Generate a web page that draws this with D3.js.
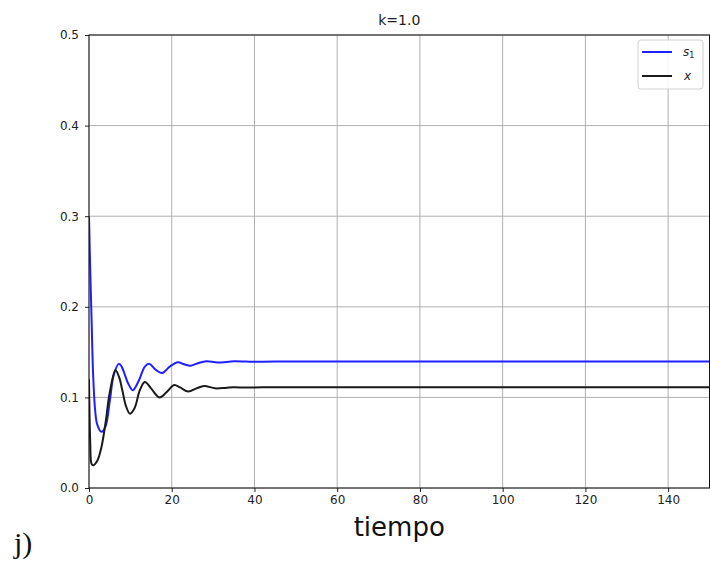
<!DOCTYPE html>
<html>
<head>
<meta charset="utf-8">
<script src="https://cdn.jsdelivr.net/npm/d3@7"></script>
<style>
  html, body { margin: 0; padding: 0; background: #fff; }
  svg { display: block; }
</style>
</head>
<body>
<svg id="chart" width="710" height="564"></svg>
<script>
// ---- data ----
const title = "k=1.0";
const xLabel = "tiempo";
const panelLabel = "j)";
const xTicks = [0, 20, 40, 60, 80, 100, 120, 140];
const yTicks = [0.0, 0.1, 0.2, 0.3, 0.4, 0.5];
const seriesNames = ["s1", "x"];

const s1Time = [0, 0.3, 0.6, 1.0, 1.5, 2.0, 3.0, 4.0, 5.0, 6.0, 7.2, 7.9, 8.6, 9.5, 10.6, 12.0, 13.5, 14.6, 16.0, 17.7, 19.5, 21.5, 23.0, 24.6, 26.5, 28.4, 30.5, 32.0, 35.0, 38.0, 40.0, 45.0, 150];
const s1Value = [0.300, 0.240, 0.190, 0.125, 0.085, 0.070, 0.062, 0.068, 0.095, 0.125, 0.137, 0.134, 0.126, 0.115, 0.108, 0.118, 0.134, 0.137, 0.131, 0.127, 0.134, 0.1388, 0.1365, 0.1350, 0.1380, 0.1398, 0.1388, 0.1386, 0.1398, 0.1395, 0.1393, 0.1395, 0.1395];

const xTime = [0, 0.3, 0.6, 1.0, 2.0, 3.0, 4.0, 5.0, 6.4, 7.3, 8.1, 8.9, 9.9, 11.0, 12.3, 13.5, 15.0, 17.0, 18.8, 20.6, 22.0, 24.0, 26.0, 27.8, 30.5, 33.0, 35.0, 38.0, 42.0, 150];
const xValue = [0.120, 0.050, 0.027, 0.025, 0.030, 0.045, 0.072, 0.105, 0.130, 0.122, 0.107, 0.091, 0.082, 0.088, 0.108, 0.117, 0.110, 0.100, 0.106, 0.1137, 0.111, 0.1065, 0.110, 0.1126, 0.110, 0.1105, 0.1112, 0.1108, 0.1111, 0.1111];

// ---- layout ----
const svg = d3.select("#chart");
const mLeft = 89, mRight = 709.5, mTop = 35, mBottom = 488;

const x = d3.scaleLinear().domain([0, 150]).range([mLeft, mRight]);
const y = d3.scaleLinear().domain([0, 0.5]).range([mBottom, mTop]);

const font = "DejaVu Sans, sans-serif";

// grid
const grid = svg.append("g");
grid.selectAll("line.vx").data(xTicks).enter().append("line")
  .attr("x1", d => x(d)).attr("x2", d => x(d))
  .attr("y1", mTop).attr("y2", mBottom)
  .attr("stroke", "#b0b0b0").attr("stroke-width", 1);
grid.selectAll("line.hy").data(yTicks).enter().append("line")
  .attr("x1", mLeft).attr("x2", mRight)
  .attr("y1", d => y(d)).attr("y2", d => y(d))
  .attr("stroke", "#b0b0b0").attr("stroke-width", 1);

// lines
const line = d3.line().curve(d3.curveCatmullRom.alpha(0.5))
  .x(d => x(d[0])).y(d => y(d[1]));
const s1Data = s1Time.map((t, i) => [t, s1Value[i]]);
const xData = xTime.map((t, i) => [t, xValue[i]]);

svg.append("defs").append("clipPath").attr("id", "clip")
  .append("rect").attr("x", mLeft).attr("y", mTop).attr("width", mRight - mLeft).attr("height", mBottom - mTop);

svg.append("path").datum(s1Data).attr("d", line)
  .attr("fill", "none").attr("stroke", "#1f1fff").attr("stroke-width", 2)
  .attr("clip-path", "url(#clip)");
svg.append("path").datum(xData).attr("d", line)
  .attr("fill", "none").attr("stroke", "#1a1a1a").attr("stroke-width", 2)
  .attr("clip-path", "url(#clip)");

// axes
const xAxis = d3.axisBottom(x).tickValues(xTicks).tickSize(4).tickPadding(3).tickFormat(d3.format("d"));
const yAxis = d3.axisLeft(y).tickValues(yTicks).tickSize(4).tickPadding(6).tickFormat(d3.format(".1f"));

const gx = svg.append("g").attr("transform", `translate(0,${mBottom})`).call(xAxis);
const gy = svg.append("g").attr("transform", `translate(${mLeft},0)`).call(yAxis);
[gx, gy].forEach(g => {
  g.select(".domain").remove();
  g.selectAll("text").attr("font-family", font).attr("font-size", 12).attr("fill", "#222");
  g.selectAll("line").attr("stroke", "#222");
});

// frame
svg.append("rect").attr("x", mLeft).attr("y", mTop)
  .attr("width", mRight - mLeft).attr("height", mBottom - mTop)
  .attr("fill", "none").attr("stroke", "#111").attr("stroke-width", 1);

// title
svg.append("text").attr("x", (mLeft + mRight) / 2).attr("y", 25)
  .attr("text-anchor", "middle").attr("font-family", font).attr("font-size", 14)
  .attr("fill", "#222").text(title);

// x label
svg.append("text").attr("x", (mLeft + mRight) / 2).attr("y", 536)
  .attr("text-anchor", "middle").attr("font-family", font).attr("font-size", 26)
  .attr("fill", "#111").text(xLabel);

// panel label
svg.append("text").attr("x", 14).attr("y", 553)
  .attr("font-family", "Liberation Serif, DejaVu Serif, serif").attr("font-size", 30)
  .attr("fill", "#111").text(panelLabel);

// legend
const lg = svg.append("g").attr("transform", "translate(638,40)");
lg.append("rect").attr("x", 0).attr("y", 0).attr("width", 65).attr("height", 49)
  .attr("rx", 3).attr("fill", "#fff").attr("fill-opacity", 0.85)
  .attr("stroke", "#d0d0d0").attr("stroke-width", 1);
const legendItems = [
  { color: "#1f1fff", y: 12 },
  { color: "#1a1a1a", y: 36 }
];
legendItems.forEach((it) => {
  lg.append("line").attr("x1", 4).attr("x2", 34).attr("y1", it.y).attr("y2", it.y)
    .attr("stroke", it.color).attr("stroke-width", 2);
});
const t1 = lg.append("text").attr("x", 45).attr("y", 16)
  .attr("font-family", font).attr("font-size", 12).attr("font-style", "italic").attr("fill", "#222");
t1.append("tspan").text("s");
t1.append("tspan").attr("font-size", 8).attr("dy", 2).attr("font-style", "normal").text("1");
lg.append("text").attr("x", 46).attr("y", 40)
  .attr("font-family", font).attr("font-size", 12).attr("font-style", "italic").attr("fill", "#222")
  .text(seriesNames[1]);
</script>
</body>
</html>
